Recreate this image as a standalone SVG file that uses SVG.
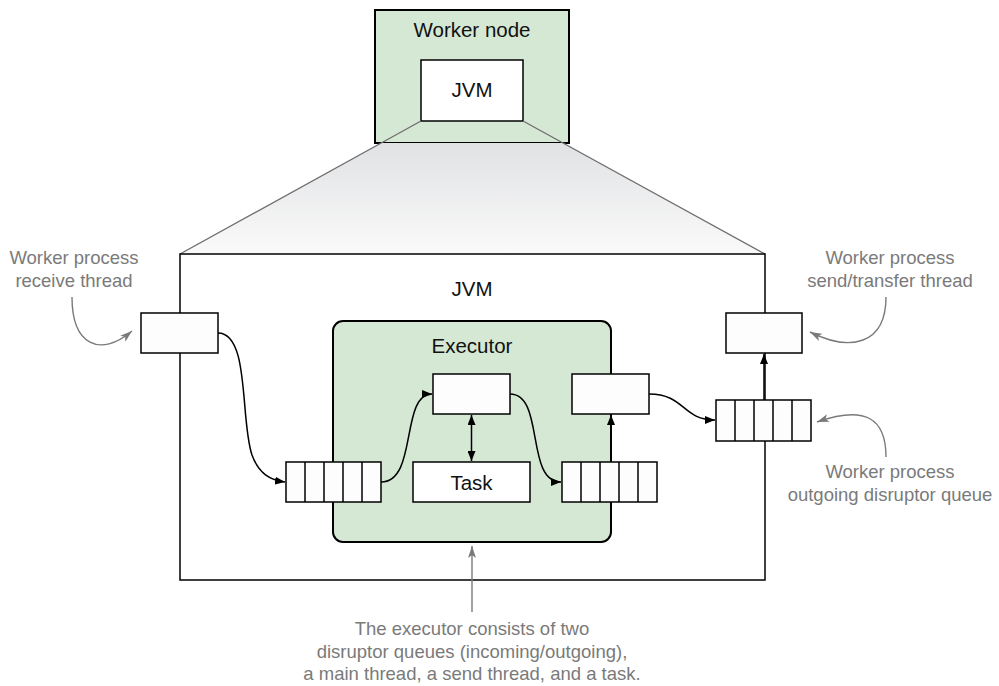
<svg xmlns="http://www.w3.org/2000/svg" width="999" height="686" viewBox="0 0 999 686">
<defs>
<linearGradient id="shade" x1="0" y1="0" x2="0" y2="1">
<stop offset="0" stop-color="#e1e2e4"/>
<stop offset="1" stop-color="#fafafa"/>
</linearGradient>
<marker id="ab" viewBox="0 0 10 8" refX="10" refY="4" markerWidth="10" markerHeight="8" markerUnits="userSpaceOnUse" orient="auto-start-reverse">
<path d="M0,0 L10,4 L0,8 Z" fill="#000"/>
</marker>
<marker id="ag" viewBox="0 0 12 8" refX="12" refY="4" markerWidth="12" markerHeight="8" markerUnits="userSpaceOnUse" orient="auto">
<path d="M0,0 L12,4 L0,8 L3,4 Z" fill="#7a7a7a"/>
</marker>
</defs>
<style>
.box{fill:#fdfdfd;stroke:#000;stroke-width:1.5}
.green{fill:#d5e8d4;stroke:#000;stroke-width:2}
.lbl{font-family:"Liberation Sans",Arial,sans-serif;font-size:20.5px;fill:#111;text-anchor:middle}
.note{font-family:"Liberation Sans",Arial,sans-serif;font-size:18.5px;fill:#7a7a7a;text-anchor:middle}
.cell{stroke:#000;stroke-width:1.5}
.conn{fill:none;stroke:#000;stroke-width:1.5}
.gconn{fill:none;stroke:#7a7a7a;stroke-width:1.4}
.zoom{fill:none;stroke:#6e6e6e;stroke-width:1.3}
</style>

<g id="worker-node">
<rect class="green" x="375" y="10" width="194" height="133"/>
<text class="lbl" x="472" y="37">Worker node</text>
</g>
<g id="zoom-shade">
<polygon points="381,143 563,143 765,254 180,254" fill="url(#shade)"/>
</g>
<g id="jvm-small">
<rect class="box" x="421" y="60" width="102" height="61" style="fill:#fff"/>
<text class="lbl" x="472" y="97">JVM</text>
</g>
<g id="zoom-lines">
<line class="zoom" x1="421" y1="121" x2="180" y2="254"/>
<line class="zoom" x1="523" y1="121" x2="765" y2="254"/>
</g>
<g id="jvm">
<rect x="180" y="254" width="585" height="326" fill="#fff" stroke="#000" stroke-width="1.5"/>
<text class="lbl" x="472" y="296">JVM</text>
</g>
<g id="executor">
<rect class="green" x="333" y="321" width="278" height="221" rx="10"/>
<text class="lbl" x="472" y="353">Executor</text>
</g>

<g id="connectors">
<path class="conn" d="M218,333 C250,333 240,420 252,455 C259,474 270,480 285,482" marker-end="url(#ab)"/>
<path class="conn" d="M381,482 C418,482 400,394 432,394" marker-end="url(#ab)"/>
<path class="conn" d="M510,394 C545,394 525,482 561,482" marker-end="url(#ab)"/>
<path class="conn" d="M649,394 C685,394 682,420 715,420" marker-end="url(#ab)"/>
<line class="conn" x1="471.5" y1="415" x2="471.5" y2="461" marker-start="url(#ab)" marker-end="url(#ab)"/>
<line class="conn" x1="611" y1="462" x2="611" y2="415" marker-end="url(#ab)"/>
<line class="conn" x1="764" y1="400" x2="764" y2="354" marker-end="url(#ab)"/>
<path class="gconn" d="M72,297 C72,345 100,358 132,331" marker-end="url(#ag)"/>
<path class="gconn" d="M886,297 C886,345 850,352 810,332" marker-end="url(#ag)"/>
<path class="gconn" d="M886,457 C886,418 865,405 817,422" marker-end="url(#ag)"/>
<line class="gconn" x1="472" y1="612" x2="472" y2="546" marker-end="url(#ag)"/>
</g>

<g id="receive-thread">
<rect class="box" x="141" y="313" width="77" height="40"/>
</g>
<g id="send-transfer-thread">
<rect class="box" x="726" y="313" width="76" height="40"/>
</g>
<g id="main-thread">
<rect class="box" x="433" y="374" width="77" height="40"/>
</g>
<g id="send-thread">
<rect class="box" x="572" y="374" width="77" height="40"/>
</g>
<g id="task">
<rect class="box" x="413" y="462" width="117" height="40" style="fill:#fff"/>
<text class="lbl" x="471.5" y="490">Task</text>
</g>
<g id="incoming-queue">
<rect class="box" x="286" y="462" width="95" height="40"/>
<path class="cell" d="M305,462V502M324,462V502M343,462V502M362,462V502"/>
</g>
<g id="outgoing-queue">
<rect class="box" x="562" y="462" width="95" height="40"/>
<path class="cell" d="M581,462V502M600,462V502M619,462V502M638,462V502"/>
</g>
<g id="worker-outgoing-queue">
<rect class="box" x="716" y="400" width="95" height="41"/>
<path class="cell" d="M735,400V441M754,400V441M773,400V441M792,400V441"/>
</g>

<g id="note-receive">
<text class="note" x="74" y="264">Worker process</text>
<text class="note" x="74" y="287">receive thread</text>
</g>
<g id="note-send">
<text class="note" x="890" y="264">Worker process</text>
<text class="note" x="890" y="287">send/transfer thread</text>
</g>
<g id="note-outgoing">
<text class="note" x="890" y="478">Worker process</text>
<text class="note" x="890" y="501">outgoing disruptor queue</text>
</g>
<g id="note-executor">
<text class="note" x="472" y="635">The executor consists of two</text>
<text class="note" x="472" y="658">disruptor queues (incoming/outgoing),</text>
<text class="note" x="472" y="680">a main thread, a send thread, and a task.</text>
</g>
</svg>
